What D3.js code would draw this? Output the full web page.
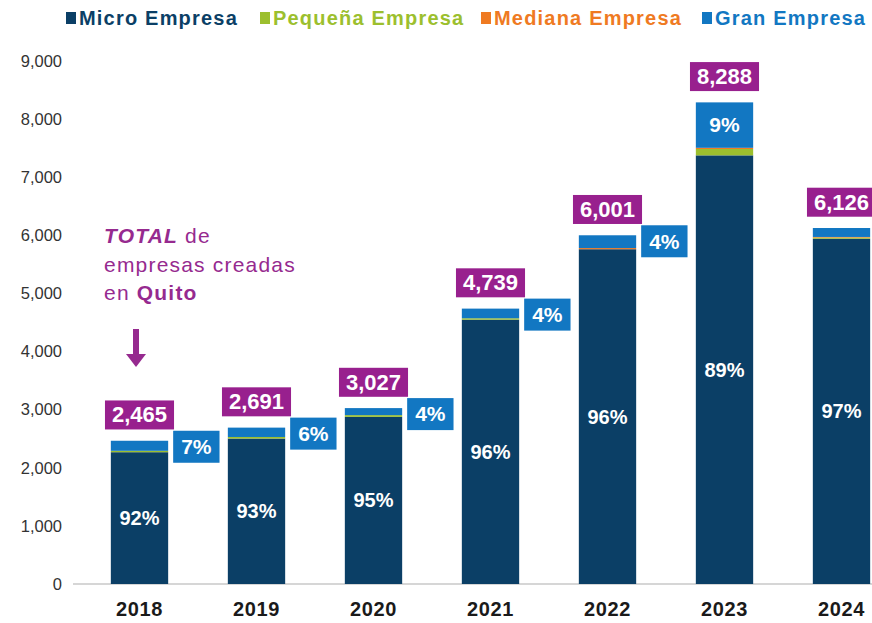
<!DOCTYPE html>
<html>
<head>
<meta charset="utf-8">
<script src="https://cdn.jsdelivr.net/npm/d3@7"></script>
<style>
  body { margin: 0; background: #fff; }
  svg { display: block; font-family: Arial, "Liberation Sans", sans-serif; }
</style>
</head>
<body>
<div id="chart"></div>
<script>
var years = ["2018", "2019", "2020", "2021", "2022", "2023", "2024"];
var totals = [2465, 2691, 3027, 4739, 6001, 8288, 6126];
var micro = [2268, 2503, 2876, 4549, 5761, 7376, 5942];
var pequena = [24, 27, 30, 24, 0, 110, 20];
var mediana = [0, 0, 0, 0, 20, 20, 10];
var gran = [173, 161, 121, 166, 220, 782, 154];
var microPct = ["92%", "93%", "95%", "96%", "96%", "89%", "97%"];
var granPct = ["7%", "6%", "4%", "4%", "4%", "9%", null];
var yTicks = [0, 1000, 2000, 3000, 4000, 5000, 6000, 7000, 8000, 9000];
var seriesNames = ["Micro Empresa", "Pequeña Empresa", "Mediana Empresa", "Gran Empresa"];
var seriesKeys = ["micro", "pequena", "mediana", "gran"];
var colors = ["#0b3f66", "#9cbf2e", "#ef7a22", "#1277c2"];

var w = 872, h = 623;

var rows = years.map(function(y, i) {
  return { year: y, micro: micro[i], pequena: pequena[i], mediana: mediana[i], gran: gran[i], total: totals[i] };
});

var svg = d3.select("#chart").append("svg")
  .attr("width", w)
  .attr("height", h);

var x = d3.scaleBand()
  .domain(years)
  .range([81, 900])
  .paddingInner(0.51)
  .paddingOuter(0.255);

var y = d3.scaleLinear()
  .domain([0, 9000])
  .range([584, 61]);

var color = d3.scaleOrdinal().domain(seriesKeys).range(colors);

// y tick labels, no axis line
var yAxis = svg.append("g")
  .attr("transform", "translate(62,0)")
  .call(d3.axisLeft(y).tickValues(yTicks).tickSize(0).tickPadding(0).tickFormat(d3.format(",")));
yAxis.select(".domain").remove();
yAxis.selectAll("text")
  .attr("font-size", 16.5)
  .attr("font-family", "Arial, 'Liberation Sans', sans-serif")
  .attr("fill", "#333");

// baseline
svg.append("line")
  .attr("x1", 73).attr("x2", w)
  .attr("y1", y(0)).attr("y2", y(0))
  .attr("stroke", "#c8c8c8")
  .attr("stroke-width", 1.5);

// x axis labels
var xAxis = svg.append("g")
  .attr("transform", "translate(0," + y(0) + ")")
  .call(d3.axisBottom(x).tickSize(0).tickPadding(18));
xAxis.select(".domain").remove();
xAxis.selectAll("text")
  .attr("font-size", 20)
  .attr("font-weight", "bold")
  .attr("letter-spacing", 0.6)
  .attr("font-family", "Arial, 'Liberation Sans', sans-serif")
  .attr("fill", "#1a1a1a");

// stacked bars
var stack = d3.stack().keys(seriesKeys);
var layers = svg.selectAll("g.layer")
  .data(stack(rows))
  .enter()
  .append("g")
  .attr("class", "layer")
  .attr("fill", function(d) { return color(d.key); });

layers.selectAll("rect")
  .data(function(d) { return d; })
  .enter()
  .append("rect")
  .attr("x", function(d) { return x(d.data.year); })
  .attr("y", function(d) { return y(d[1]); })
  .attr("width", x.bandwidth())
  .attr("height", function(d) { return y(d[0]) - y(d[1]); });

// micro % labels in the middle of the micro segment
svg.selectAll("text.micro")
  .data(rows)
  .enter()
  .append("text")
  .attr("class", "micro")
  .attr("x", function(d) { return x(d.year) + x.bandwidth() / 2; })
  .attr("y", function(d) { return y(d.micro / 2); })
  .attr("dy", "0.35em")
  .attr("text-anchor", "middle")
  .attr("font-size", 20)
  .attr("font-weight", "bold")
  .attr("fill", "#fff")
  .text(function(d, i) { return microPct[i]; });

// total boxes
var totalG = svg.selectAll("g.total")
  .data(rows)
  .enter()
  .append("g")
  .attr("class", "total");

totalG.append("text")
  .attr("x", function(d) { return x(d.year) + x.bandwidth() / 2; })
  .attr("y", function(d) { return y(d.total) - 26; })
  .attr("dy", "0.35em")
  .attr("text-anchor", "middle")
  .attr("font-size", 22)
  .attr("font-weight", "bold")
  .attr("fill", "#fff")
  .text(function(d) { return d3.format(",")(d.total); })
  .each(function() {
    var bb = this.getBBox();
    d3.select(this.parentNode).insert("rect", "text")
      .attr("x", bb.x - 7)
      .attr("y", bb.y + bb.height / 2 - 14.5 )
      .attr("width", bb.width + 14)
      .attr("height", 29)
      .attr("fill", "#98208e");
  });

// gran % boxes
var granG = svg.selectAll("g.gran")
  .data(rows.filter(function(d, i) { return granPct[i] !== null; }))
  .enter()
  .append("g")
  .attr("class", "gran");

granG.each(function(d) {
  var i = years.indexOf(d.year);
  var g = d3.select(this);
  var inside = d.year === "2023";
  var cx, cy;
  if (inside) {
    cx = x(d.year) + x.bandwidth() / 2;
    cy = y(d.total - d.gran / 2);
  } else {
    cy = y(d.total) + 6;
  }
  var t = g.append("text")
    .attr("y", cy)
    .attr("dy", "0.35em")
    .attr("font-size", 21)
    .attr("font-weight", "bold")
    .attr("fill", "#fff")
    .text(granPct[i]);
  if (inside) {
    t.attr("x", cx).attr("text-anchor", "middle");
  } else {
    var len = t.node().getComputedTextLength();
    var left = x(d.year) + x.bandwidth() + 5;
    t.attr("x", left + 8);
    g.insert("rect", "text")
      .attr("x", left)
      .attr("y", cy - 16)
      .attr("width", len + 16)
      .attr("height", 32)
      .attr("fill", "#1277c2");
  }
});

// annotation
var note = svg.append("g")
  .attr("fill", "#962a8f")
  .attr("font-size", 21)
  .attr("letter-spacing", 1.2);
var l1 = note.append("text").attr("x", 104).attr("y", 243);
l1.append("tspan").attr("font-weight", "bold").attr("font-style", "italic").text("TOTAL");
l1.append("tspan").text(" de");
note.append("text").attr("x", 104).attr("y", 272).text("empresas creadas");
var l3 = note.append("text").attr("x", 104).attr("y", 300);
l3.append("tspan").text("en ");
l3.append("tspan").attr("font-weight", "bold").text("Quito");

// arrow
svg.append("rect")
  .attr("x", 133).attr("y", 329)
  .attr("width", 6).attr("height", 26)
  .attr("fill", "#962a8f");
svg.append("path")
  .attr("d", "M126,354 L146,354 L136,367 Z")
  .attr("fill", "#962a8f");

// legend
var legendX = [66, 260, 481, 702];
var legend = svg.selectAll("g.legend")
  .data(seriesNames)
  .enter()
  .append("g")
  .attr("class", "legend")
  .attr("transform", function(d, i) { return "translate(" + legendX[i] + ",18)"; });
legend.append("rect")
  .attr("x", 0).attr("y", -6)
  .attr("width", 10).attr("height", 12)
  .attr("fill", function(d, i) { return colors[i]; });
legend.append("text")
  .attr("x", 13)
  .attr("dy", "0.35em")
  .attr("font-size", 20)
  .attr("font-weight", "bold")
  .attr("letter-spacing", 1.2)
  .attr("fill", function(d, i) { return i === 0 ? "#0b3f66" : colors[i]; })
  .text(function(d) { return d; });
</script>
</body>
</html>
